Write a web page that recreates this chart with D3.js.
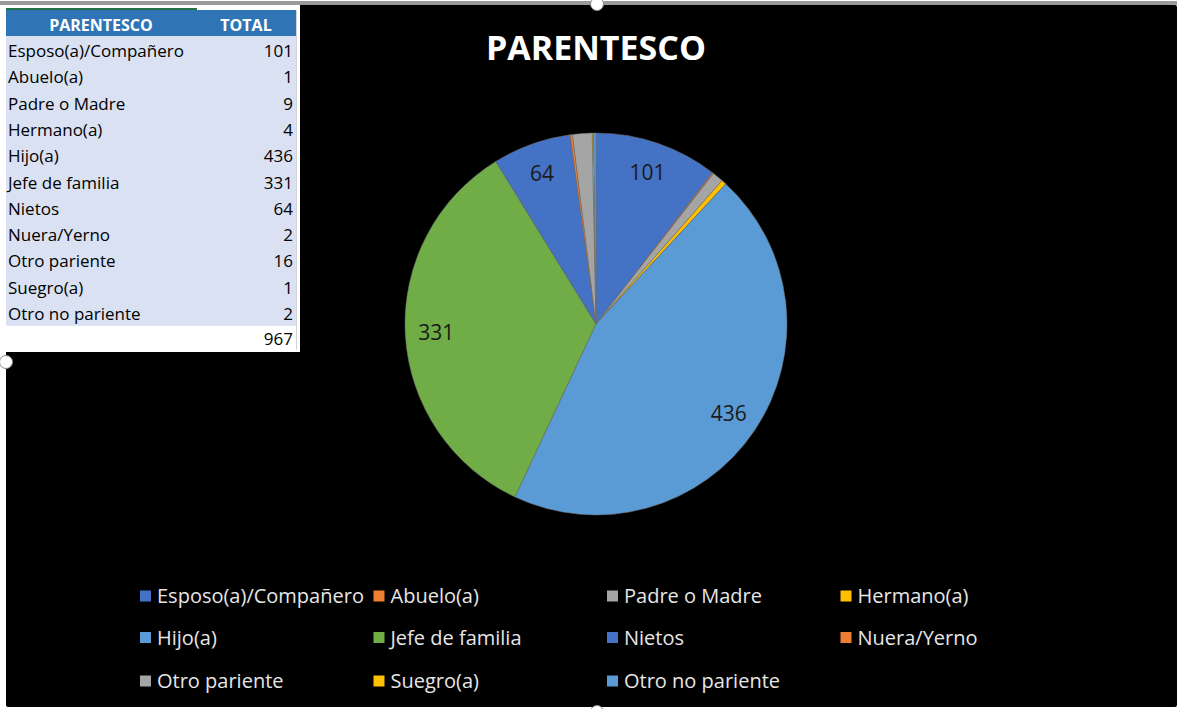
<!DOCTYPE html>
<html>
<head>
<meta charset="utf-8">
<script src="https://cdn.jsdelivr.net/npm/d3@7"></script>
<style>
  body { margin: 0; background: #fff; }
  svg { display: block; }
</style>
</head>
<body>
<svg id="chart" width="1177" height="709"></svg>
<script>
// data
var categories = ["Esposo(a)/Compañero", "Abuelo(a)", "Padre o Madre", "Hermano(a)", "Hijo(a)",
    "Jefe de familia", "Nietos", "Nuera/Yerno", "Otro pariente", "Suegro(a)", "Otro no pariente"];
var totals = [101, 1, 9, 4, 436, 331, 64, 2, 16, 1, 2];
var colors = ["#4472C4", "#ED7D31", "#A5A5A5", "#FFC000", "#5B9BD5", "#70AD47",
    "#4472C4", "#ED7D31", "#A5A5A5", "#FFC000", "#5B9BD5"];
var headers = ["PARENTESCO", "TOTAL"];
var title = "PARENTESCO";
var labelMin = 50; // small slices show no label in the original

var data = categories.map(function (c, i) {
    return {name: c, value: totals[i], color: colors[i]};
});

var svg = d3.select("#chart"),
    width = +svg.attr("width"),
    height = +svg.attr("height");

// chart frame
svg.append("rect")
    .attr("x", 0).attr("y", 1)
    .attr("width", width).attr("height", 4)
    .attr("fill", "#9a9a9a");

svg.append("rect")
    .attr("x", 6).attr("y", 5)
    .attr("width", width - 6).attr("height", 702)
    .attr("rx", 2)
    .attr("fill", "#000");

svg.append("text")
    .attr("x", 596).attr("y", 60)
    .attr("text-anchor", "middle")
    .style("font-family", "'Open Sans', sans-serif")
    .style("font-weight", "bold")
    .style("font-size", "34px")
    .attr("fill", "#fff")
    .text(title);

// pie
var cx = 596, cy = 324, radius = 191;
var g = svg.append("g").attr("transform", "translate(" + cx + "," + cy + ")");

var pie = d3.pie()
    .sort(null)
    .value(function (d) { return d.value; });

var path = d3.arc()
    .outerRadius(radius)
    .innerRadius(0);

var labelArc = d3.arc()
    .outerRadius(radius - 31)
    .innerRadius(radius - 31);

var arcs = g.selectAll(".arc")
    .data(pie(data))
    .enter().append("g")
    .attr("class", "arc");

arcs.append("path")
    .attr("d", path)
    .attr("fill", function (d) { return d.data.color; })
    .attr("stroke", "#6f6f6f")
    .style("stroke-width", 0.5);

arcs.filter(function (d) { return d.data.value >= labelMin; })
    .append("text")
    .attr("transform", function (d) { return "translate(" + labelArc.centroid(d) + ")"; })
    .attr("dy", "0.35em")
    .attr("text-anchor", "middle")
    .style("font-family", "'Open Sans', sans-serif")
    .style("font-size", "21px")
    .attr("fill", "#1a1a1a")
    .text(function (d) { return d.data.value; });

// legend, 4 columns
var legend = svg.append("g");
var colStep = 233.5, rowY = [596, 637.5, 681];

var item = legend.selectAll(".item")
    .data(data)
    .enter().append("g")
    .attr("class", "item")
    .attr("transform", function (d, i) {
        return "translate(" + (140 + (i % 4) * colStep) + "," + rowY[Math.floor(i / 4)] + ")";
    });

item.append("rect")
    .attr("x", 0).attr("y", -5.5)
    .attr("width", 11).attr("height", 11)
    .attr("fill", function (d) { return d.color; });

item.append("text")
    .attr("x", 17).attr("y", 7)
    .style("font-family", "'Open Sans', sans-serif")
    .style("font-size", "20px")
    .attr("fill", "#e6e6e6")
    .text(function (d) { return d.name; });

// selection handles of the chart object
var handles = [[597, 4], [6, 362], [597, 712]];
svg.selectAll(".handle")
    .data(handles)
    .enter().append("circle")
    .attr("cx", function (d) { return d[0]; })
    .attr("cy", function (d) { return d[1]; })
    .attr("r", 6.5)
    .attr("fill", "#fff")
    .attr("stroke", "#8a8a8a")
    .attr("stroke-width", 1);

// spreadsheet table pasted on top
var table = svg.append("g");
var rowH = 26.3, tableTop = 36;

table.append("rect")
    .attr("x", 0).attr("y", 5)
    .attr("width", 300).attr("height", 347)
    .attr("fill", "#fff");

table.append("rect")
    .attr("x", 6).attr("y", 8)
    .attr("width", 191).attr("height", 2)
    .attr("fill", "#217346");

table.append("rect")
    .attr("x", 6).attr("y", 10)
    .attr("width", 290).attr("height", 26)
    .attr("fill", "#2F75B5");

table.append("text")
    .attr("x", 101).attr("y", 31)
    .attr("text-anchor", "middle")
    .style("font-family", "'Open Sans', sans-serif")
    .style("font-weight", "bold")
    .style("font-size", "16px")
    .attr("fill", "#fff")
    .text(headers[0]);

table.append("text")
    .attr("x", 246).attr("y", 31)
    .attr("text-anchor", "middle")
    .style("font-family", "'Open Sans', sans-serif")
    .style("font-weight", "bold")
    .style("font-size", "16px")
    .attr("fill", "#fff")
    .text(headers[1]);

var rows = table.selectAll(".row")
    .data(data)
    .enter().append("g")
    .attr("class", "row")
    .attr("transform", function (d, i) { return "translate(0," + (tableTop + i * rowH) + ")"; });

rows.append("rect")
    .attr("x", 6).attr("y", 0)
    .attr("width", 290).attr("height", rowH + 0.5)
    .attr("fill", "#D9E1F2");

rows.append("text")
    .attr("x", 8).attr("y", 21)
    .style("font-family", "'Open Sans', sans-serif")
    .style("font-size", "17px")
    .attr("fill", "#000")
    .text(function (d) { return d.name; });

rows.append("text")
    .attr("x", 293).attr("y", 21)
    .attr("text-anchor", "end")
    .style("font-family", "'Open Sans', sans-serif")
    .style("font-size", "17px")
    .attr("fill", "#000")
    .text(function (d) { return d.value; });

table.append("text")
    .attr("x", 293).attr("y", 345)
    .attr("text-anchor", "end")
    .style("font-family", "'Open Sans', sans-serif")
    .style("font-size", "17px")
    .attr("fill", "#000")
    .text(d3.sum(totals));

table.append("line")
    .attr("x1", 296.5).attr("x2", 296.5)
    .attr("y1", 10).attr("y2", 350)
    .attr("stroke", "#d4d4d4");
</script>
</body>
</html>
